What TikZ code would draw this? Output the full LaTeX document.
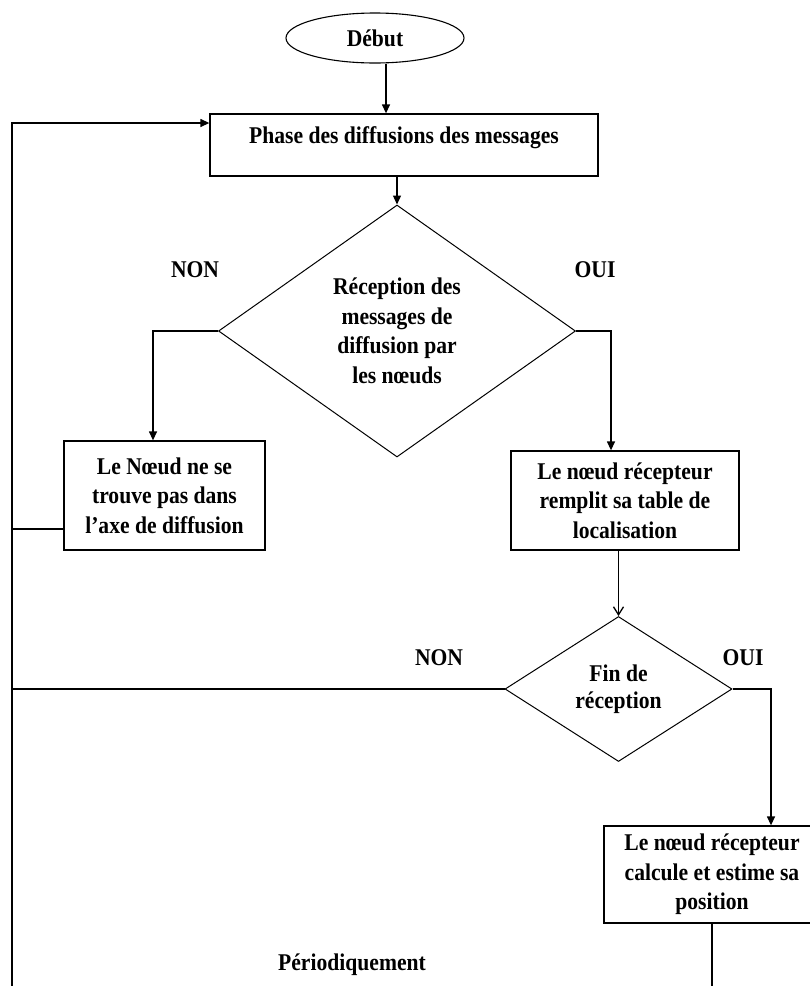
\documentclass[tikz,border=0pt]{standalone}
\usepackage{fontspec}
\setmainfont{Liberation Serif}[FakeStretch=0.9]
\usetikzlibrary{shapes.geometric,arrows.meta,calc}

\begin{document}
\begin{tikzpicture}[x=1pt,y=-1pt,
  every node/.style={font=\bfseries\fontsize{24}{29.5}\selectfont},
  box/.style={draw,line width=1.3pt,rectangle,inner sep=0pt,align=center},
  dec/.style={draw,line width=1pt,diamond,inner sep=0pt,align=center},
  link/.style={line width=1.3pt},
  arr/.style={link,-{Triangle[length=9pt,width=8pt]}},
  varr/.style={link,-{Straight Barb[length=8pt,width=10pt]}},
  lbl/.style={inner sep=0pt}
]
\useasboundingbox (0,0) rectangle (810,986);
\clip (0,0) rectangle (810,986);

% start
\node[draw,ellipse,line width=1.1pt,minimum width=178pt,minimum height=50pt,inner sep=0pt] (debut) at (375,38) {Début};

% broadcast phase
\node[box,minimum width=388pt,minimum height=62pt,text height=15pt,text depth=19pt] (phase) at (404,145) {Phase des diffusions des messages};

% first decision
\node[dec,minimum width=357pt,minimum height=252pt,aspect=1.417] (d1) at (397,331) {Réception des\\messages de\\diffusion par\\les nœuds};

% branches of the first decision
\node[box,minimum width=201pt,minimum height=109pt] (b2) at (164.5,495.5) {Le Nœud ne se\\trouve pas dans\\l’axe de diffusion};
\node[box,minimum width=228pt,minimum height=99pt] (b3) at (625,500.5) {Le nœud récepteur\\remplit sa table de\\localisation};

% second decision
\node[dec,minimum width=227pt,minimum height=145pt,aspect=1.57,font=\bfseries\fontsize{24}{27}\selectfont] (d2) at (618.5,689) {Fin de\\réception};

% position estimate
\node[box,minimum width=216pt,minimum height=97pt] (b4) at (712,874.5) {Le nœud récepteur\\calcule et estime sa\\position};

% labels
\node[lbl] (non1) at (195,270) {NON};
\node[lbl] (oui1) at (595,270) {OUI};
\node[lbl] (non2) at (439,658) {NON};
\node[lbl] (oui2) at (743,658) {OUI};
\node[lbl] (period) at (352,965) {Périodiquement};

% loop-back line on the left
\coordinate (loopB) at (12,1000);

% connectors
\draw[arr] ([xshift=11pt]debut.south) -- ([xshift=11pt]debut.south |- phase.north);
\draw[arr] (d1.north |- phase.south) -- (d1.north);
\draw[arr] (d1.west) -| ([xshift=-11.5pt]b2.north);
\draw[arr] (d1.east) -| ([xshift=-14pt]b3.north);
\draw[varr] (b3.south -| d2.north) -- (d2.north);
\draw[arr] (d2.east) -| ([xshift=59pt]b4.north);
\draw[link] (b4.south) -- (b4.south |- loopB);
\draw[arr] (loopB) |- ([yshift=22pt]phase.west);
\draw[link] (d2.west) -- (d2.west -| loopB);
\draw[link] ([yshift=-33.5pt]b2.west) -- ([yshift=-33.5pt]b2.west -| loopB);
\end{tikzpicture}
\end{document}
